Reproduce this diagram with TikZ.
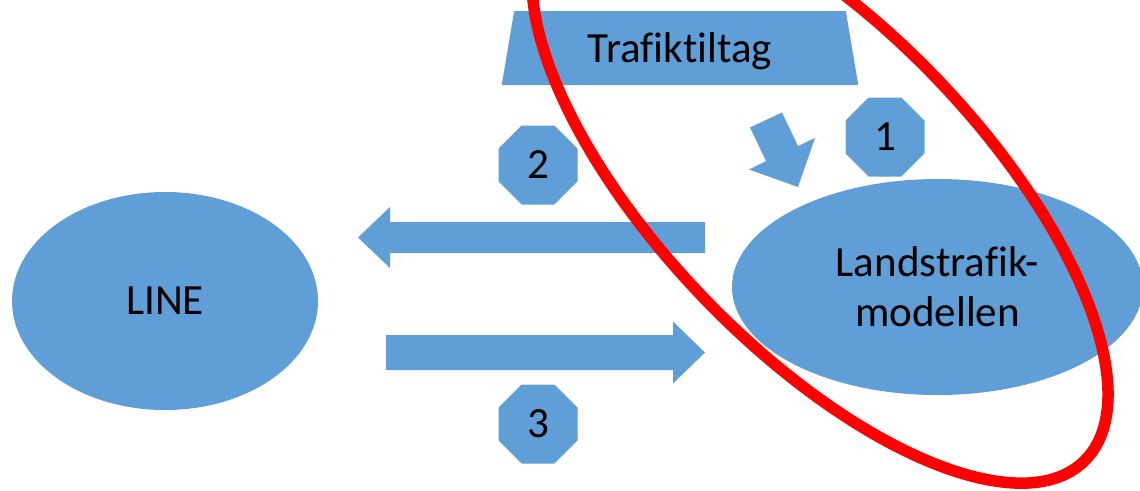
\documentclass[tikz,border=0pt]{standalone}
\usepackage{fontspec}
\setmainfont{Carlito}[Ligatures=NoCommon]
\usetikzlibrary{shapes.geometric}

\definecolor{officeblue}{RGB}{96,158,216}
\definecolor{ringred}{RGB}{255,0,0}

\tikzset{
	blob/.style={shape=ellipse, fill=officeblue, inner sep=0pt, align=center},
	badge/.style={shape=regular polygon, regular polygon sides=8, fill=officeblue, minimum size=1.71cm, inner sep=0pt},
	measure/.style={shape=trapezium, trapezium stretches=true, trapezium left angle=77, trapezium right angle=77, fill=officeblue, minimum width=7.14cm, minimum height=1.48cm, inner sep=0pt, text depth=0pt},
	flow/.style={fill=officeblue},
	ring/.style={draw=ringred, line width=0.23cm}
}

\begin{document}
\begin{tikzpicture}[font=\fontsize{24.5}{28.5}\selectfont]
	\clip (0,0) rectangle (22.8,-9.8);

	\node[blob, minimum width=6.12cm, minimum height=4.36cm] (line) at (3.30,-6.02) {LINE};
	\node[blob, minimum width=8.22cm, minimum height=4.32cm] (lsm) at (18.75,-5.74) {Landstrafik-\\modellen};
	\node[measure] (tiltag) at (13.60,-0.96) {Trafiktiltag};

	\node[badge] (n1) at (17.70,-2.74) {1};
	\node[badge] (n2) at (10.76,-3.30) {2};
	\node[badge] (n3) at (10.76,-8.48) {3};

	% block arrows
	\fill[flow] (14.10,-4.44) -- (7.80,-4.44) -- (7.80,-4.14) -- (7.16,-4.75) -- (7.80,-5.36) -- (7.80,-5.06) -- (14.10,-5.06) -- cycle;
	\fill[flow] (7.72,-6.70) -- (13.46,-6.70) -- (13.46,-6.43) -- (14.10,-7.05) -- (13.46,-7.67) -- (13.46,-7.40) -- (7.72,-7.40) -- cycle;
	\fill[flow] (15.64,-2.25) -- (15.96,-2.92) -- (16.30,-2.76) -- (15.96,-3.74) -- (14.98,-3.39) -- (15.32,-3.22) -- (15.00,-2.55) -- cycle;

	% red ring
	\draw[ring, rotate around={-46:(16.40,-3.76)}] (16.40,-3.76) ellipse [x radius=7.60cm, y radius=3.20cm];
\end{tikzpicture}
\end{document}
